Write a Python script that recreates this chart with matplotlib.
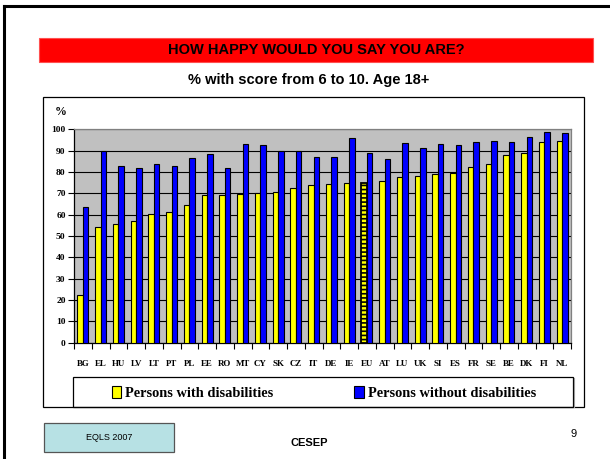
import numpy as np
import matplotlib
matplotlib.use("Agg")
import matplotlib.pyplot as plt
from matplotlib.patches import Rectangle
from matplotlib.lines import Line2D

W, H = 610, 459

countries = ["BG", "EL", "HU", "LV", "LT", "PT", "PL", "EE", "RO", "MT",
             "CY", "SK", "CZ", "IT", "DE", "IE", "EU", "AT", "LU", "UK",
             "SI", "ES", "FR", "SE", "BE", "DK", "FI", "NL"]
with_disab = [22.3, 54.1, 55.6, 57.2, 60.3, 61.3, 64.4, 69.2, 69.2, 69.7,
              70.3, 70.8, 72.3, 73.8, 74.4, 74.8, 74.8, 75.9, 77.5, 78.0,
              79.1, 79.5, 82.2, 83.8, 88.0, 89.1, 94.2, 94.7]
without_disab = [63.4, 90.0, 82.7, 81.7, 83.8, 82.7, 86.4, 88.4, 81.7, 93.1,
                 92.7, 90.0, 90.0, 86.9, 86.9, 95.8, 89.1, 85.9, 93.8, 91.1,
                 93.1, 92.7, 94.2, 94.7, 94.2, 96.3, 98.9, 98.4]
y_ticks = list(range(0, 101, 10))

SERIF = "Liberation Serif"
SANS = "Liberation Sans"

plt.rcParams["hatch.linewidth"] = 1.2


def fx(x):
    return x / W


def fy(y):
    return 1 - y / H


def box(x0, y0, x1, y1, **kw):
    # pixel coords (top-left origin) -> figure rectangle
    return Rectangle((fx(x0), fy(y1)), (x1 - x0) / W, (y1 - y0) / H,
                     transform=fig.transFigure, **kw)


fig = plt.figure(figsize=(W / 100, H / 100), dpi=100)

# slide border (top + left only)
fig.add_artist(Line2D([fx(4), fx(4)], [fy(6), 0], color="black", lw=2.2))
fig.add_artist(Line2D([fx(4), 1], [fy(6), fy(6)], color="black", lw=2.2))

# red banner + titles
fig.add_artist(box(39, 38, 593, 62, facecolor="#FF0000", edgecolor="#FF5050", lw=0.8))
fig.text(fx(316), fy(50), "HOW HAPPY WOULD YOU SAY YOU ARE?", family=SANS,
         weight="bold", size=10.5, ha="center", va="center")
fig.text(fx(309), fy(80), "% with score from 6 to 10. Age 18+", family=SANS,
         weight="bold", size=10.5, ha="center", va="center")

# chart frame
fig.add_artist(box(43, 97, 584, 407, facecolor="white", edgecolor="black", lw=0.9, zorder=-1))

ax = fig.add_axes([fx(74), fy(342.7), (571 - 74) / W, (342.7 - 129.3) / H])
ax.set_facecolor("#C0C0C0")

x = np.arange(len(countries))
bw = 0.31
bars_with = ax.bar(x - bw / 2, with_disab, bw, color="#FFFF00",
                   edgecolor="black", linewidth=0.8, zorder=3)
bars_without = ax.bar(x + bw / 2, without_disab, bw, color="#0000FF",
                      edgecolor="black", linewidth=0.8, zorder=3)

eu = countries.index("EU")
bars_with[eu].set_hatch("----")
bars_with[eu].set_linewidth(1.3)

ax.set_xlim(-0.5, len(countries) - 0.5)
ax.set_ylim(0, 100)
ax.set_yticks(y_ticks)
ax.yaxis.grid(True, color="black", lw=0.8)
ax.set_axisbelow(True)

ax.set_xticks(x, countries)
ax.set_xticks(np.arange(-0.5, len(countries)), minor=True)
ax.tick_params(axis="x", which="major", length=0, pad=12.5)
ax.tick_params(axis="x", which="minor", length=4, width=0.8, direction="out")
ax.tick_params(axis="y", length=4, width=0.8, pad=2)
for lab in ax.get_xticklabels():
    lab.set_fontfamily(SERIF)
    lab.set_fontweight("bold")
    lab.set_fontsize(6.4)
for lab in ax.get_yticklabels():
    lab.set_fontfamily(SERIF)
    lab.set_fontweight("bold")
    lab.set_fontsize(6.8)

for side in ("left", "bottom"):
    ax.spines[side].set_color("black")
    ax.spines[side].set_linewidth(0.9)
for side in ("top", "right"):
    ax.spines[side].set_color("#808080")
    ax.spines[side].set_linewidth(0.9)

fig.text(fx(61), fy(112), "%", family=SERIF, weight="bold", size=8.5,
         ha="center", va="center")

# legend
fig.add_artist(box(73, 377, 573, 407, facecolor="none", edgecolor="black", lw=0.9))
fig.add_artist(Line2D([fx(574), fx(574)], [fy(378), fy(407)], color="#999999", lw=0.8))
fig.legend([bars_with, bars_without],
           ["Persons with disabilities", "Persons without disabilities"],
           loc="center", bbox_to_anchor=(fx(324), fy(393)), ncol=2,
           frameon=False, handlelength=0.65, handleheight=0.85,
           handletextpad=0.3, columnspacing=5.6, borderpad=0,
           prop={"family": SERIF, "weight": "bold", "size": 10.4})

# footer
fig.add_artist(box(44, 423, 174, 452, facecolor="#B7E1E4", edgecolor="#555555", lw=0.9))
fig.text(fx(109), fy(437), "EQLS 2007", family=SANS, size=6.5,
         ha="center", va="center")
fig.text(fx(309), fy(443), "CESEP", family=SANS, weight="bold", size=8,
         ha="center", va="center")
fig.text(fx(574), fy(434), "9", family=SANS, size=8, ha="center", va="center")

fig.savefig("out.png", dpi=100)
